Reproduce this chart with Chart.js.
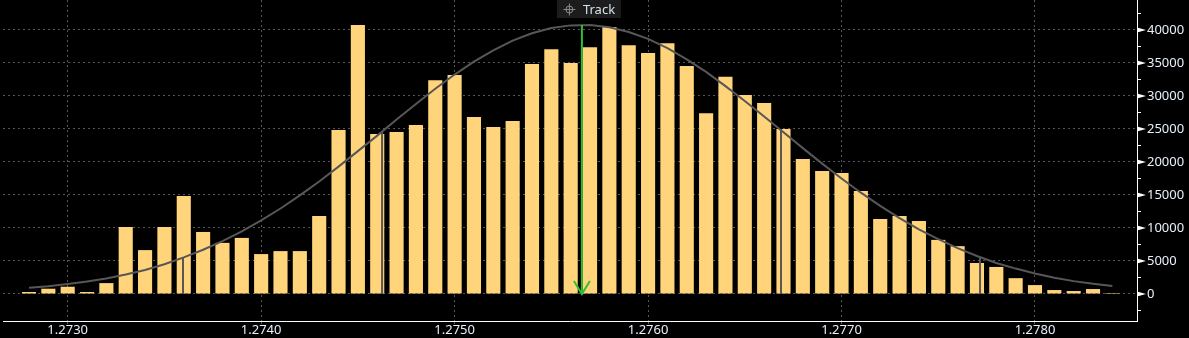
<!DOCTYPE html>
<html>
<head>
<meta charset="utf-8">
<script src="https://cdn.jsdelivr.net/npm/chart.js@4.4.1/dist/chart.umd.min.js"></script>
<style>
  html, body { margin: 0; padding: 0; background: #000; }
  #wrap { width: 1189px; height: 338px; position: relative; }
</style>
</head>
<body>
<div id="wrap"><canvas id="histChart"></canvas></div>
<script>
// bin centres (price)
const bins = [1.2728, 1.2729, 1.2730, 1.2731, 1.2732, 1.2733, 1.2734, 1.2735, 1.2736, 1.2737,
              1.2738, 1.2739, 1.2740, 1.2741, 1.2742, 1.2743, 1.2744, 1.2745, 1.2746, 1.2747,
              1.2748, 1.2749, 1.2750, 1.2751, 1.2752, 1.2753, 1.2754, 1.2755, 1.2756, 1.2757,
              1.2758, 1.2759, 1.2760, 1.2761, 1.2762, 1.2763, 1.2764, 1.2765, 1.2766, 1.2767,
              1.2768, 1.2769, 1.2770, 1.2771, 1.2772, 1.2773, 1.2774, 1.2775, 1.2776, 1.2777,
              1.2778, 1.2779, 1.2780, 1.2781, 1.2782, 1.2783, 1.2784];
// histogram counts
const counts = [300, 800, 1100, 300, 1650, 10150, 6650, 10150, 14850, 9400,
                7750, 8500, 6050, 6500, 6500, 11800, 24850, 40750, 24250, 24550,
                25600, 32400, 33200, 26800, 25300, 26200, 34850, 37100, 35000, 37400,
                40450, 37700, 36500, 38000, 34550, 27400, 32900, 30150, 28950, 25000,
                20450, 18650, 18350, 15600, 11350, 11800, 11050, 8200, 7250, 4700,
                4100, 2400, 1350, 600, 450, 750, 150];
// fitted distribution curve, read at each bin centre
const fitCurve = [950, 1180, 1500, 1880, 2350, 2950, 3650, 4500, 5550, 6700,
                  8000, 9500, 11150, 12950, 14950, 17050, 19300, 21650, 24000, 26450,
                  28800, 31100, 33250, 35200, 36900, 38400, 39500, 40300, 40700, 40750,
                  40400, 39700, 38650, 37250, 35550, 33650, 31500, 29250, 26900, 24500,
                  22100, 19750, 17500, 15350, 13350, 11500, 9800, 8300, 6950, 5750,
                  4700, 3850, 3100, 2450, 1950, 1550, 1200];
// std dev markers (x) and where they meet the curve
const sdX = [1.273596, 1.274625, 1.276687, 1.277716];
const sdTop = [5600, 24700, 25000, 5450];
// tracked price marker
const trackX = 1.275658;
const trackTop = 40760;
const trackLabel = 'Track';

const xTicks = [1.2730, 1.2740, 1.2750, 1.2760, 1.2770, 1.2780];
const yTicks = [0, 5000, 10000, 15000, 20000, 25000, 30000, 35000, 40000];
const yMinorTicks = [-2500, 2500, 7500, 12500, 17500, 22500, 27500, 32500, 37500, 42500];

const barColor = '#ffd47b';
const curveColor = '#575757';
const trackColor = '#2fbf35';
const gridColor = '#575757';
const textColor = '#e8f0fb';

Chart.defaults.font.family = "'Noto Sans', sans-serif";
Chart.defaults.font.size = 13;

const overlay = {
  id: 'overlay',
  afterDatasetsDraw(chart) {
    const { ctx, scales: { x, y } } = chart;
    const ax = x.getPixelForValue(trackX);
    const ay = y.getPixelForValue(0);
    ctx.save();
    // arrow head of the track line
    ctx.strokeStyle = trackColor;
    ctx.lineWidth = 2;
    ctx.beginPath();
    ctx.moveTo(ax - 8, ay - 13);
    ctx.lineTo(ax, ay);
    ctx.lineTo(ax + 8, ay - 13);
    ctx.stroke();
    // track label box
    ctx.fillStyle = '#1c1c1c';
    ctx.fillRect(ax - 25, 0, 64, 18);
    ctx.strokeStyle = '#8a8a8a';
    ctx.lineWidth = 1;
    const cx = ax - 12.5, cy = 9.5;
    ctx.beginPath();
    ctx.arc(cx, cy, 3.5, 0, Math.PI * 2);
    ctx.moveTo(cx - 6, cy); ctx.lineTo(cx + 6, cy);
    ctx.moveTo(cx, cy - 6); ctx.lineTo(cx, cy + 6);
    ctx.stroke();
    ctx.fillStyle = '#d6e0e8';
    ctx.font = "13px 'Noto Sans', sans-serif";
    ctx.textBaseline = 'alphabetic';
    ctx.textAlign = 'left';
    ctx.fillText(trackLabel, ax + 1, 14);
    ctx.restore();
  },
  afterDraw(chart) {
    const { ctx, chartArea, scales: { y } } = chart;
    const x0 = chartArea.right;
    ctx.save();
    ctx.fillStyle = '#ffffff';
    yTicks.forEach(v => {
      const py = y.getPixelForValue(v);
      ctx.beginPath();
      ctx.moveTo(x0, py - 2.5);
      ctx.lineTo(x0 + 9, py);
      ctx.lineTo(x0, py + 2.5);
      ctx.closePath();
      ctx.fill();
    });
    ctx.strokeStyle = '#ffffff';
    ctx.lineWidth = 1;
    yMinorTicks.forEach(v => {
      const py = Math.round(y.getPixelForValue(v)) + 0.5;
      ctx.beginPath();
      ctx.moveTo(x0, py);
      ctx.lineTo(x0 + 4, py);
      ctx.stroke();
    });
    ctx.restore();
  }
};

const datasets = [
  {
    type: 'line', data: [{ x: trackX, y: 0 }, { x: trackX, y: trackTop }],
    borderColor: trackColor, borderWidth: 2, pointRadius: 0, order: 0
  },
  {
    type: 'line', data: bins.map((b, i) => ({ x: b, y: fitCurve[i] })),
    borderColor: curveColor, borderWidth: 2, pointRadius: 0, tension: 0, order: 1
  }
];
sdX.forEach((v, i) => {
  datasets.push({
    type: 'line', data: [{ x: v, y: 0 }, { x: v, y: sdTop[i] }],
    borderColor: curveColor, borderWidth: 2, pointRadius: 0, order: 1
  });
});
datasets.push({
  type: 'bar', data: bins.map((b, i) => ({ x: b, y: counts[i] })),
  backgroundColor: barColor, borderWidth: 0,
  categoryPercentage: 1, barPercentage: 0.73, order: 2
});

new Chart(document.getElementById('histChart'), {
  type: 'bar',
  data: { datasets: datasets },
  plugins: [overlay],
  options: {
    responsive: true,
    maintainAspectRatio: false,
    animation: false,
    layout: { padding: { left: 3 } },
    plugins: { legend: { display: false }, tooltip: { enabled: false } },
    scales: {
      x: {
        type: 'linear', offset: false,
        min: 1.2726656, max: 1.2785273,
        afterBuildTicks: s => { s.ticks = xTicks.map(v => ({ value: v })); },
        afterFit: s => { s.height = 17; s.paddingLeft = 0; s.paddingRight = 0; },
        grid: { offset: false, color: gridColor, tickColor: gridColor, tickLength: 4,
                tickBorderDash: [2, 3], drawTicks: true },
        border: { display: true, color: '#ffffff', width: 1, dash: [2, 3] },
        ticks: { color: textColor, padding: -1, maxRotation: 0, autoSkip: false,
                 font: { lineHeight: 1 },
                 callback: v => v.toFixed(4) }
      },
      y: {
        position: 'right',
        min: -4091, max: 44545,
        afterBuildTicks: s => { s.ticks = yTicks.map(v => ({ value: v })); },
        afterFit: s => { s.width = 52; s.paddingTop = 0; s.paddingBottom = 0; },
        grid: { color: gridColor, drawTicks: false },
        border: { display: true, color: '#ffffff', width: 1, dash: [2, 3] },
        ticks: { color: textColor, padding: 10, callback: v => String(v) }
      }
    }
  }
});
</script>
</body>
</html>
